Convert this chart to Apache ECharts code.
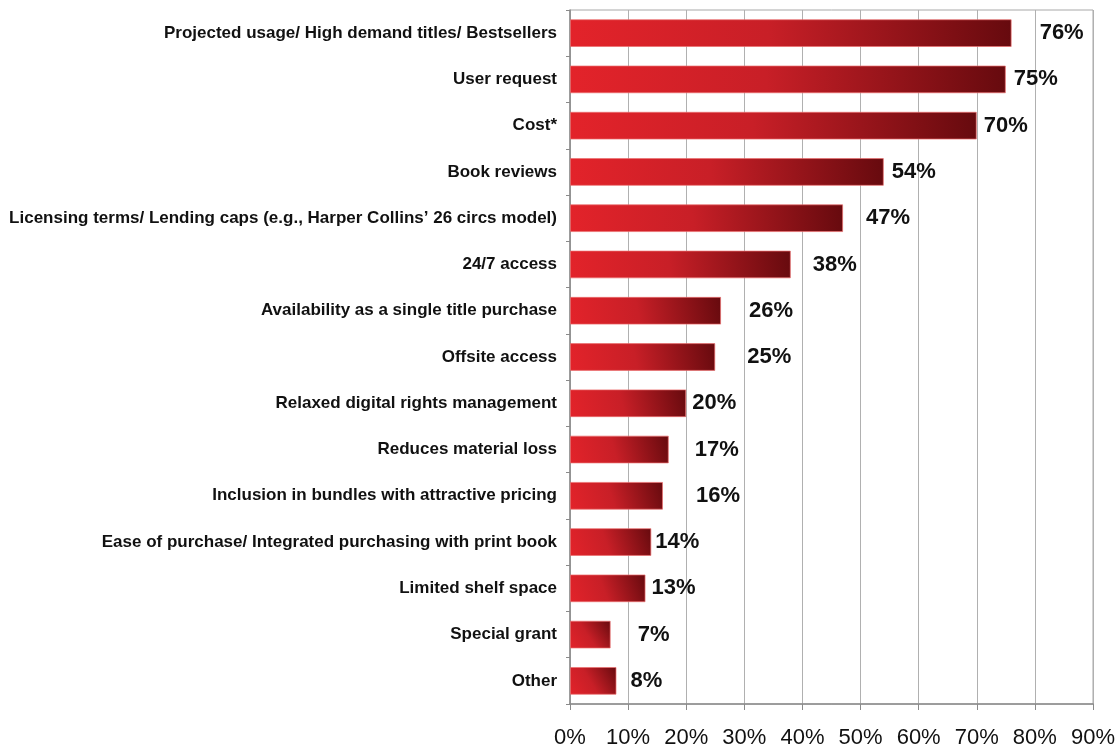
<!DOCTYPE html>
<html>
<head>
<meta charset="utf-8">
<title>Selection criteria</title>
<script src="https://cdn.jsdelivr.net/npm/echarts@6/dist/echarts.min.js"></script>
<style>
  html, body { margin: 0; padding: 0; background: #fff; }
  #chart { width: 1120px; height: 750px; }
</style>
</head>
<body>
<div id="chart"></div>
<script>
// Categories, top to bottom
const categories = [
  'Projected usage/ High demand titles/ Bestsellers',
  'User request',
  'Cost*',
  'Book reviews',
  'Licensing terms/ Lending caps (e.g., Harper Collins\u2019 26 circs model)',
  '24/7 access',
  'Availability as a single title purchase',
  'Offsite access',
  'Relaxed digital rights management',
  'Reduces material loss',
  'Inclusion in bundles with attractive pricing',
  'Ease of purchase/ Integrated purchasing with print book',
  'Limited shelf space',
  'Special grant',
  'Other'
];

// Share of respondents (%)
const percentages = [76, 75, 70, 54, 47, 38, 26, 25, 20, 17, 16, 14, 13, 7, 8];

// Axis ticks
const axisMin = 0;
const axisMax = 90;
const axisStep = 10;

// Gap between each bar end and its value label (px)
const labelGap = [28, 8, 7, 8, 23, 22, 28, 32, 6, 26, 33, 4, 6, 27, 14];

const FONT = '"Liberation Sans", Arial, Helvetica, sans-serif';

const barFill = new echarts.graphic.LinearGradient(0, 1, 1, 0, [
  { offset: 0, color: '#e3232a' },
  { offset: 0.45, color: '#c81f27' },
  { offset: 1, color: '#660a0e' }
]);

const chart = echarts.init(document.getElementById('chart'), null, { renderer: 'canvas' });

chart.setOption({
  animation: false,
  backgroundColor: '#ffffff',
  grid: {
    left: 570, right: 27, top: 10, bottom: 46,
    show: true, borderColor: '#a8a8a8', borderWidth: 1
  },
  xAxis: {
    type: 'value',
    min: axisMin, max: axisMax, interval: axisStep,
    axisLine: { show: true, lineStyle: { color: '#8a8a8a', width: 1.5 } },
    axisTick: { show: true, length: 6, lineStyle: { color: '#8a8a8a' } },
    splitLine: { show: true, lineStyle: { color: '#b0b0b0', width: 1 } },
    axisLabel: {
      formatter: '{value}%',
      color: '#111', fontFamily: FONT, fontSize: 22, margin: 23
    }
  },
  yAxis: {
    type: 'category',
    data: categories,
    inverse: true,
    axisLine: { show: true, lineStyle: { color: '#8a8a8a', width: 1.5 } },
    axisTick: { show: true, length: 4, lineStyle: { color: '#8a8a8a' } },
    axisLabel: {
      color: '#111', fontFamily: FONT, fontSize: 17, fontWeight: 'bold', margin: 13
    }
  },
  series: [{
    type: 'bar',
    barCategoryGap: '40%',
    data: percentages.map((v, i) => ({
      value: v,
      label: { distance: labelGap[i] }
    })),
    itemStyle: {
      color: barFill,
      borderColor: 'rgba(235,110,110,0.7)',
      borderWidth: 1
    },
    label: {
      show: true,
      position: 'right',
      formatter: '{c}%',
      color: '#111',
      fontFamily: FONT,
      fontSize: 22,
      fontWeight: 'bold'
    }
  }]
});
</script>
</body>
</html>
